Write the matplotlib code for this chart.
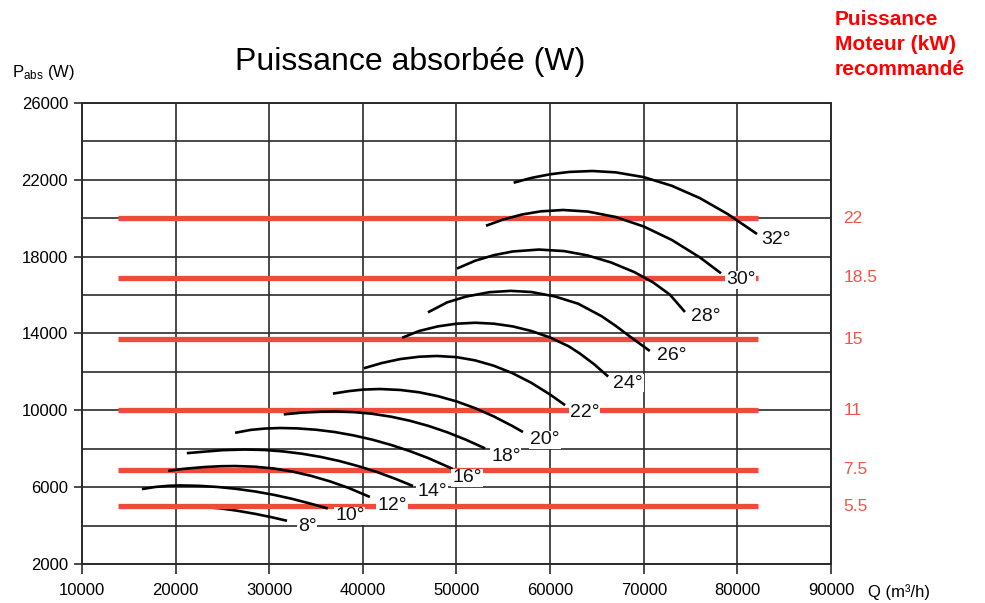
import matplotlib
matplotlib.use('Agg')
import matplotlib.pyplot as plt

# ── Style ─────────────────────────────────────────────────
plt.rcParams['font.family'] = ['Liberation Sans', 'DejaVu Sans']
plt.rcParams['mathtext.fontset'] = 'custom'
plt.rcParams['mathtext.rm'] = 'Liberation Sans'
plt.rcParams['mathtext.it'] = 'Liberation Sans'

RED_LINE = '#EF4B3C'
RED_TXT = '#F0554A'
GRID = '#2b2b2b'

# ── Courbes de puissance absorbée par angle de pale ───────
ANGLES = ['8°', '10°', '12°', '14°', '16°', '18°', '20°',
          '22°', '24°', '26°', '28°', '30°', '32°']

Q_8 = [17000, 19000, 21000, 23000, 24700, 26500, 28500, 30300, 31900]
P_8 = [4990, 5010, 5000, 4960, 4900, 4780, 4610, 4430, 4250]
Q_10 = [16400, 17800, 19200, 20500, 22500, 24500, 26500, 28500, 30500,
        32500, 34500, 36250]
P_10 = [5900, 6010, 6070, 6090, 6070, 6010, 5910, 5775, 5600,
        5385, 5130, 4890]
Q_12 = [19200, 21000, 23000, 24800, 26350, 28500, 30500, 32500, 34500,
        36500, 38500, 40750]
P_12 = [6850, 6960, 7045, 7090, 7100, 7065, 6970, 6810, 6585,
        6300, 5955, 5490]
Q_14 = [21200, 23000, 25000, 27400, 29500, 31500, 33500, 35500, 37500,
        39500, 41500, 43500, 45350]
P_14 = [7770, 7845, 7925, 7960, 7935, 7860, 7740, 7575, 7360,
        7095, 6790, 6430, 6060]
Q_16 = [26350, 28000, 29500, 31150, 33000, 35000, 37000, 39000, 41000,
        43000, 45000, 47000, 49600]
P_16 = [8830, 8980, 9050, 9080, 9060, 8990, 8870, 8695, 8475,
        8200, 7880, 7510, 6950]
Q_18 = [31550, 33500, 35300, 37000, 39000, 41000, 43000, 45000, 47000,
        49000, 51000, 53050]
P_18 = [9790, 9880, 9925, 9940, 9910, 9820, 9670, 9460, 9190,
        8860, 8470, 8020]
Q_20 = [36800, 38500, 40000, 41800, 44000, 46000, 48000, 50000, 52000,
        54000, 56000, 57100]
P_20 = [10870, 11000, 11080, 11110, 11060, 10940, 10740, 10465, 10110,
        9680, 9175, 8870]
Q_22 = [40100, 42000, 44000, 46000, 47900, 50000, 52000, 54000, 56000,
        58000, 60000, 61600]
P_22 = [12190, 12460, 12670, 12790, 12830, 12770, 12600, 12320, 11930,
        11430, 10820, 10270]
Q_24 = [44200, 46000, 48000, 50000, 52000, 54000, 56000, 58000, 60000,
        62000, 63200, 64700, 66200]
P_24 = [13780, 14130, 14370, 14510, 14560, 14510, 14370, 14130, 13790,
        13330, 12950, 12400, 11760]
Q_26 = [46950, 49000, 51000, 53500, 55800, 58000, 60500, 63000, 65500,
        67000, 68500, 70650]
P_26 = [15100, 15620, 15920, 16150, 16220, 16160, 15930, 15550, 14900,
        14400, 13850, 13090]
Q_28 = [50050, 52000, 54000, 56000, 58800, 61500, 64000, 66500, 69000,
        71000, 72800, 74400]
P_28 = [17380, 17790, 18080, 18270, 18370, 18290, 18065, 17700, 17195,
        16660, 16020, 15120]
Q_30 = [53150, 55000, 57000, 59000, 61400, 64000, 67000, 70000, 73000,
        76000, 78250]
P_30 = [19610, 19935, 20195, 20360, 20430, 20350, 20065, 19570, 18870,
        17960, 17135]
Q_32 = [56100, 58000, 60000, 62000, 64500, 67000, 70000, 73000, 76000,
        79000, 82100]
P_32 = [21850, 22100, 22290, 22410, 22460, 22390, 22140, 21690, 21045,
        20210, 19180]

CURVES_Q = [Q_8, Q_10, Q_12, Q_14, Q_16, Q_18, Q_20,
            Q_22, Q_24, Q_26, Q_28, Q_30, Q_32]
CURVES_P = [P_8, P_10, P_12, P_14, P_16, P_18, P_20,
            P_22, P_24, P_26, P_28, P_30, P_32]

# position des étiquettes d'angle (Q, P)
LABEL_Q = [34030, 38620, 43110, 47380, 51120, 55280, 59450,
           63720, 68310, 73010, 76640, 80380, 84120]
LABEL_P = [3930, 4500, 5070, 5750, 6480, 7620, 8460,
           9910, 11420, 12880, 14910, 16790, 18870]

# ── Puissance moteur recommandée ──────────────────────────
MOTOR_KW = ['22', '18.5', '15', '11', '7.5', '5.5']
MOTOR_P = [20000, 16900, 13700, 10000, 6900, 5000]
MOTOR_Q = [13850, 82200]

X_TICKS = [10000, 20000, 30000, 40000, 50000, 60000, 70000, 80000, 90000]
Y_TICKS = [2000, 6000, 10000, 14000, 18000, 22000, 26000]
Y_GRID = [4000, 8000, 12000, 16000, 20000, 24000]

fig = plt.figure(figsize=(9.85, 6.03), dpi=100)
ax = fig.add_axes([82 / 985, 1 - 564 / 603, 749 / 985, 461 / 603])

ax.set_xlim(10000, 90000)
ax.set_ylim(2000, 26000)

# grille
for x in X_TICKS:
    ax.axvline(x, color=GRID, lw=1.2, zorder=1)
for y in Y_TICKS + Y_GRID:
    ax.axhline(y, color=GRID, lw=1.2, zorder=1)

# lignes moteur
for p in MOTOR_P:
    ax.plot(MOTOR_Q, [p, p], color=RED_LINE, lw=3.8,
            solid_capstyle='butt', zorder=2)

# courbes (8° passe sous la ligne 5.5 kW)
for i, (q, p) in enumerate(zip(CURVES_Q, CURVES_P)):
    ax.plot(q, p, color='black', lw=1.9, solid_capstyle='butt',
            solid_joinstyle='round', zorder=1.5 if i == 0 else 3)

for lbl, q, p in zip(ANGLES, LABEL_Q, LABEL_P):
    ax.text(q, p, lbl, fontsize=14, ha='center', va='center', color='#111111',
            zorder=5, bbox=dict(facecolor='white', edgecolor='none', pad=0.6))

# étiquettes kW à droite
for kw, p in zip(MOTOR_KW, MOTOR_P):
    ax.text(91300, p, kw, fontsize=12.5, color=RED_TXT,
            ha='left', va='center', clip_on=False)

ax.set_xticks(X_TICKS)
ax.set_yticks(Y_TICKS)
ax.set_xticklabels([str(v) for v in X_TICKS])
ax.set_yticklabels([str(v) for v in Y_TICKS])
ax.tick_params(direction='out', length=6, width=1.2, color=GRID,
               labelsize=12, pad=4)
ax.tick_params(axis='x', length=7, pad=7)
for s in ax.spines.values():
    s.set_color(GRID)
    s.set_linewidth(1.4)
    s.set_zorder(1)

fig.text(410 / 985, 1 - 62 / 603, 'Puissance absorbée (W)',
         fontsize=23, ha='center', va='center')
fig.text(12 / 985, 1 - 72 / 603, r'P$_{\mathrm{abs}}$ (W)',
         fontsize=12, ha='left', va='center')
fig.text(868 / 985, 1 - 592 / 603, 'Q (m³/h)',
         fontsize=12, ha='left', va='center')
fig.text(835 / 985, 1 - 10 / 603, 'Puissance\nMoteur (kW)\nrecommandé',
         fontsize=15, fontweight='bold', color='#FF0000',
         ha='left', va='top', linespacing=1.4)

fig.savefig('out.png', dpi=100)
